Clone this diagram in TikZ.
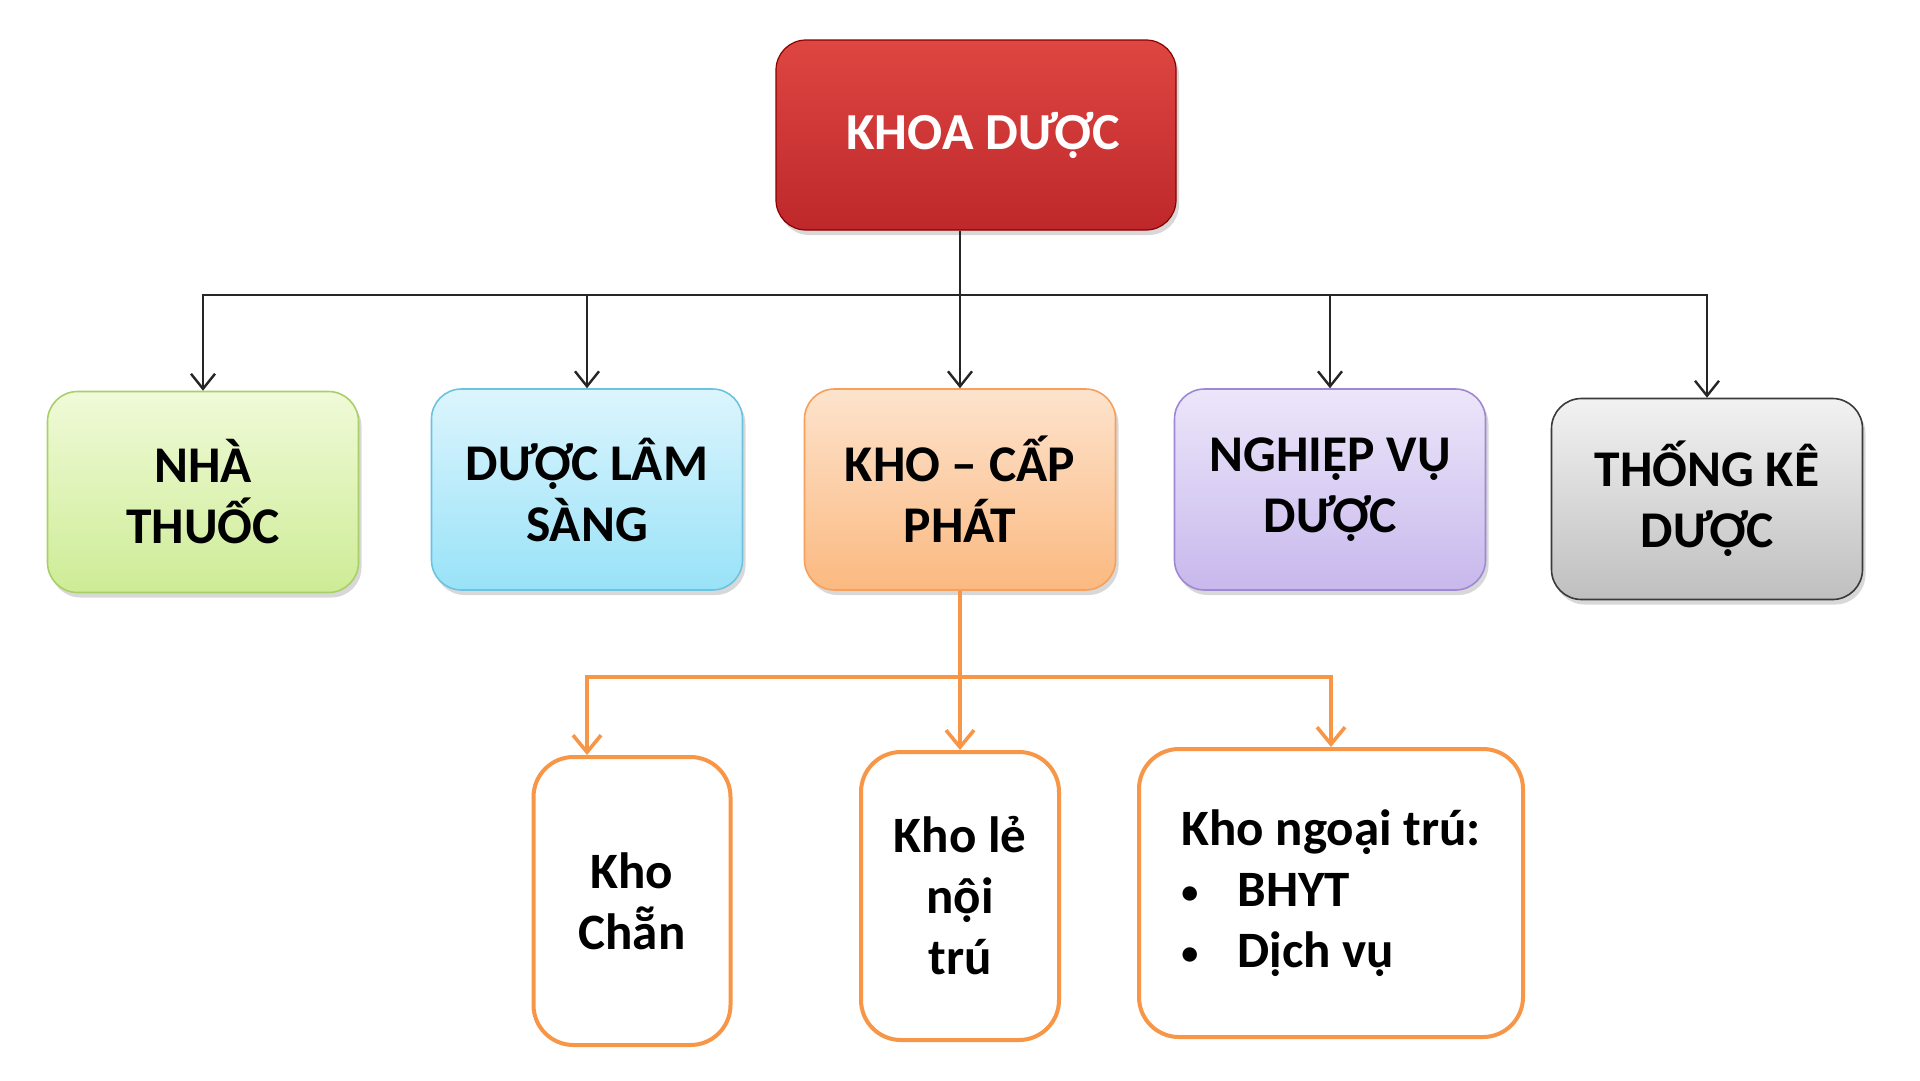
\documentclass[tikz,border=0pt]{standalone}
\usepackage{fontspec}
\setmainfont{Carlito}
\usetikzlibrary{arrows.meta,shadows}
\definecolor{orng}{HTML}{F79646}
\newcommand{\smbul}{\makebox[56pt][l]{\fontsize{34}{34}\selectfont\raisebox{3pt}{•}}}
\begin{document}
\begin{tikzpicture}[x=1pt,y=-1pt,
  shad/.style={drop shadow={opacity=0.3,shadow xshift=3pt,shadow yshift=-5pt}},
  midbox/.style={draw, rounded corners=30pt, minimum width=311pt, minimum height=201pt,
    align=center, font=\fontsize{51.5}{61}\selectfont\bfseries, line width=1.6pt, shad},
  lowbox/.style={draw=orng, fill=white, rounded corners=40pt, line width=4pt, minimum height=288pt,
    font=\fontsize{51}{61}\selectfont\bfseries},
  blk/.style={draw=black!85, line width=2.4pt, -{Straight Barb[length=15pt,width=24pt,line width=2.4pt]}},
  org/.style={draw=orng, line width=3.6pt, -{Straight Barb[length=17pt,width=28pt,line width=3.6pt]}}]
\useasboundingbox (0,0) rectangle (1920,1080);
\fill[white] (0,0) rectangle (1920,1080);

\node[draw=red!55!black, line width=1.2pt, rounded corners=30pt, minimum width=400pt, minimum height=190pt,
  top color={rgb,255:red,222;green,70;blue,66}, bottom color={rgb,255:red,190;green,40;blue,42},
  text=white, font=\fontsize{52}{62}\selectfont\bfseries, shad] (top) at (976,135) {\hspace*{14pt}KHOA DƯỢC};

\node[midbox, draw={rgb,255:red,168;green,208;blue,102}, top color={rgb,255:red,240;green,250;blue,216}, bottom color={rgb,255:red,205;green,236;blue,150}] (n1) at (203,492) {NHÀ\\THUỐC};
\node[midbox, draw={rgb,255:red,108;green,195;blue,224}, top color={rgb,255:red,220;green,245;blue,253}, bottom color={rgb,255:red,153;green,226;blue,248}] (n2) at (587,489.5) {DƯỢC LÂM\\SÀNG};
\node[midbox, draw={rgb,255:red,246;green,160;blue,92}, top color={rgb,255:red,253;green,227;blue,205}, bottom color={rgb,255:red,251;green,185;blue,128}] (n3) at (960,489.5) {KHO – CẤP\\PHÁT};
\node[midbox, draw={rgb,255:red,159;green,136;blue,211}, top color={rgb,255:red,236;green,230;blue,250}, bottom color={rgb,255:red,200;green,184;blue,236}] (n4) at (1330,489.5) {NGHIỆP VỤ\\DƯỢC};
\node[midbox, draw={rgb,255:red,58;green,58;blue,58}, top color={rgb,255:red,242;green,242;blue,242}, bottom color={rgb,255:red,191;green,191;blue,191}] (n5) at (1707,499) {THỐNG KÊ\\DƯỢC};

\node[lowbox, minimum width=197pt, align=center] (b1) at (632,901) {Kho\\Chẵn};
\node[lowbox, minimum width=198pt, align=center] (b2) at (960,896) {Kho lẻ\\nội\\trú};
\node[lowbox, minimum width=384pt, align=left] (b3) at (1331,893) {Kho ngoại trú:\\\smbul BHYT\\\smbul Dịch vụ};

\coordinate (j1) at (960,295);
\draw[draw=black!85, line width=2.4pt] (top.south -| j1) -- (j1);
\draw[blk] (j1) -| (n1.north);
\draw[blk] (j1) -| (n2.north);
\draw[blk] (j1) -- (n3.north);
\draw[blk] (j1) -| (n4.north);
\draw[blk] (j1) -| (n5.north);

\coordinate (j2) at (960,677);
\draw[draw=orng, line width=3.6pt] (n3.south) -- (j2);
\draw[org] (j2) -| ([xshift=-45pt]b1.north);
\draw[org] (j2) -- (b2.north);
\draw[org] (j2) -| (b3.north);
\end{tikzpicture}
\end{document}
